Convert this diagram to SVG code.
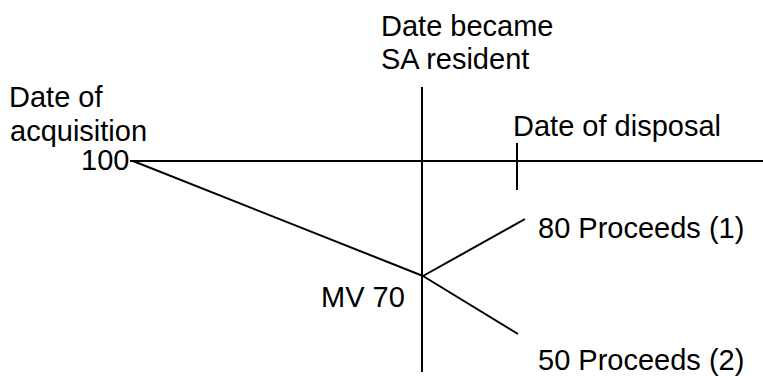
<svg xmlns="http://www.w3.org/2000/svg" width="763" height="376" viewBox="0 0 763 376">
<style>
text{font-family:"Liberation Sans",Arial,sans-serif;font-size:29px;fill:#000}
.ln{stroke:#000;stroke-width:2;fill:none}
</style>
<rect width="763" height="376" fill="#fff"/>
<g id="connectors">
<line class="ln" x1="130" y1="161" x2="763" y2="161"/>
<line class="ln" x1="422" y1="87" x2="422" y2="372"/>
<line class="ln" x1="517" y1="143" x2="517" y2="190"/>
<line class="ln" x1="133" y1="161" x2="423" y2="276"/>
<line class="ln" x1="423" y1="276" x2="525" y2="219"/>
<line class="ln" x1="423" y1="276" x2="518" y2="334"/>
</g>
<g id="acquisition"><text x="9" y="107">Date of</text><text x="10" y="141">acquisition</text></g>
<g id="cost"><text x="81" y="170">100</text></g>
<g id="resident"><text x="381" y="36">Date became</text><text x="381" y="69">SA resident</text></g>
<g id="disposal"><text x="513" y="136">Date of disposal</text></g>
<g id="proceeds1"><text x="538" y="238">80 Proceeds (1)</text></g>
<g id="mv"><text x="321" y="307">MV 70</text></g>
<g id="proceeds2"><text x="538" y="370">50 Proceeds (2)</text></g>
</svg>
